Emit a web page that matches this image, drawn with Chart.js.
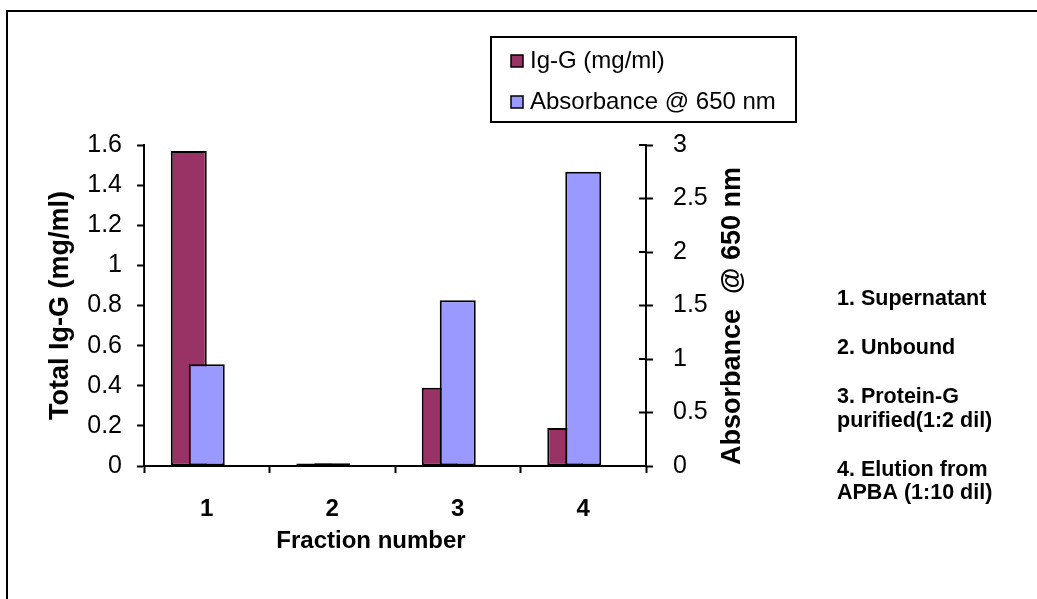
<!DOCTYPE html>
<html>
<head>
<meta charset="utf-8">
<script src="https://cdn.jsdelivr.net/npm/chart.js@4"></script>
<style>
  html, body { margin: 0; padding: 0; background: #fff; }
  canvas { display: block; }
</style>
</head>
<body>
<canvas id="myChart" width="1037" height="599"></canvas>
<script>
var fractions = ['1', '2', '3', '4'];
var igG = [1.57, 0.0125, 0.39, 0.19];          // mg/ml, left axis
var absorbance = [0.95, 0.025, 1.55, 2.75];     // A650, right axis
var igGTicks = [0, 0.2, 0.4, 0.6, 0.8, 1, 1.2, 1.4, 1.6];
var absTicks = [0, 0.5, 1, 1.5, 2, 2.5, 3];
var fractionNotes = ['1. Supernatant', '2. Unbound', '3. Protein-G', 'purified(1:2 dil)', '4. Elution from', 'APBA (1:10 dil)'];
var noteRows = [299, 348, 397, 421, 470, 493];

var FONT = "'Liberation Sans', Arial, sans-serif";
Chart.defaults.font.family = FONT;
Chart.defaults.color = '#000';

var ctx = document.getElementById('myChart').getContext('2d');

// Ig-G bars go down first so the absorbance bars overlap them
var drawOrder = {
    id: 'drawOrder',
    beforeDatasetsDraw: function(chart) {
        chart.getDatasetMeta(0).controller.draw();
    },
    beforeDatasetDraw: function(chart, args) {
        if (args.index === 0) return false;
    }
};

// frame, boxed legend, right axis title, x title and the notes
var extras = {
    id: 'extras',
    afterDraw: function(chart) {
        var c = chart.ctx;
        var area = chart.chartArea;
        c.save();
        c.strokeStyle = '#000';
        c.lineWidth = 2;
        c.beginPath();
        c.moveTo(7, 599);
        c.lineTo(7, 11);
        c.lineTo(1037, 11);
        c.stroke();

        // right axis ticks cross the axis line
        var y1 = chart.scales.y1;
        y1.ticks.forEach(function(t) {
            var py = y1.getPixelForValue(t.value);
            c.beginPath();
            c.moveTo(area.right - 7, py);
            c.lineTo(area.right, py);
            c.stroke();
        });

        // legend
        c.strokeRect(491, 37, 305, 85);
        var rows = [61, 102];
        var n = 0;
        c.font = '24px ' + FONT;
        c.textBaseline = 'middle';
        c.textAlign = 'left';
        chart.data.datasets.forEach(function(ds) {
            if (!ds.label) return;
            var ry = rows[n++];
            c.fillStyle = ds.backgroundColor;
            c.fillRect(511, ry - 6, 12, 12);
            c.lineWidth = 1.5;
            c.strokeRect(511, ry - 6, 12, 12);
            c.fillStyle = '#000';
            c.fillText(ds.label, 530, ry);
        });

        // axis titles
        c.font = 'bold 24px ' + FONT;
        c.textAlign = 'center';
        c.fillText('Fraction number', 371, 541);
        c.font = 'bold 27px ' + FONT;
        c.save();
        c.translate(733, 316);
        c.rotate(-Math.PI / 2);
        c.fillText('Absorbance  @ 650 nm', 0, 0);
        c.restore();

        // fraction key
        c.font = 'bold 21.5px ' + FONT;
        c.textAlign = 'left';
        fractionNotes.forEach(function(t, i) {
            c.fillText(t, 837, noteRows[i]);
        });
        c.restore();
    }
};

var axisGrid = {
    drawOnChartArea: false,
    drawTicks: true,
    tickLength: 7,
    tickWidth: 2,
    tickColor: '#000'
};

var myChart = new Chart(ctx, {
    type: 'bar',
    data: {
        labels: fractions,
        datasets: [{
            label: 'Ig-G (mg/ml)',
            data: igG,
            backgroundColor: '#993366',
            yAxisID: 'y',
            stack: 'a'
        }, {
            label: 'Absorbance @ 650 nm',
            data: absorbance,
            backgroundColor: '#9999FF',
            yAxisID: 'y1',
            stack: 'b'
        }, {
            // empty slot, keeps the absorbance bar on the category centre
            data: [null, null, null, null],
            yAxisID: 'y',
            stack: 'c'
        }]
    },
    options: {
        responsive: false,
        animation: false,
        layout: { padding: { top: 145 } },
        datasets: {
            bar: { categoryPercentage: 0.43, barPercentage: 2 }
        },
        elements: {
            bar: { borderColor: '#000', borderWidth: 2, borderSkipped: false }
        },
        plugins: {
            legend: { display: false },
            tooltip: { enabled: false }
        },
        scales: {
            x: {
                type: 'category',
                position: 'bottom',
                offset: true,
                grid: Object.assign({ offset: true }, axisGrid),
                border: { color: '#000', width: 2 },
                ticks: { font: { size: 24, weight: 'bold' }, padding: 22 },
                afterFit: function(s) { s.height = 133; }
            },
            y: {
                position: 'left',
                min: 0,
                max: 1.6,
                grid: axisGrid,
                border: { color: '#000', width: 2 },
                ticks: {
                    font: { size: 25 },
                    padding: 15,
                    callback: function(v) { return String(v); }
                },
                afterBuildTicks: function(s) {
                    s.ticks = igGTicks.map(function(v) { return { value: v }; });
                },
                title: {
                    display: true,
                    text: 'Total Ig-G (mg/ml)',
                    font: { size: 27, weight: 'bold' },
                    padding: { top: 44, bottom: 0 }
                },
                afterFit: function(s) { s.width = 144; }
            },
            y1: {
                position: 'right',
                min: 0,
                max: 3,
                grid: axisGrid,
                border: { color: '#000', width: 2 },
                ticks: {
                    font: { size: 25 },
                    padding: 20,
                    callback: function(v) { return String(v); }
                },
                afterBuildTicks: function(s) {
                    s.ticks = absTicks.map(function(v) { return { value: v }; });
                },
                afterFit: function(s) { s.width = 391; }
            }
        }
    },
    plugins: [drawOrder, extras]
});
</script>
</body>
</html>
